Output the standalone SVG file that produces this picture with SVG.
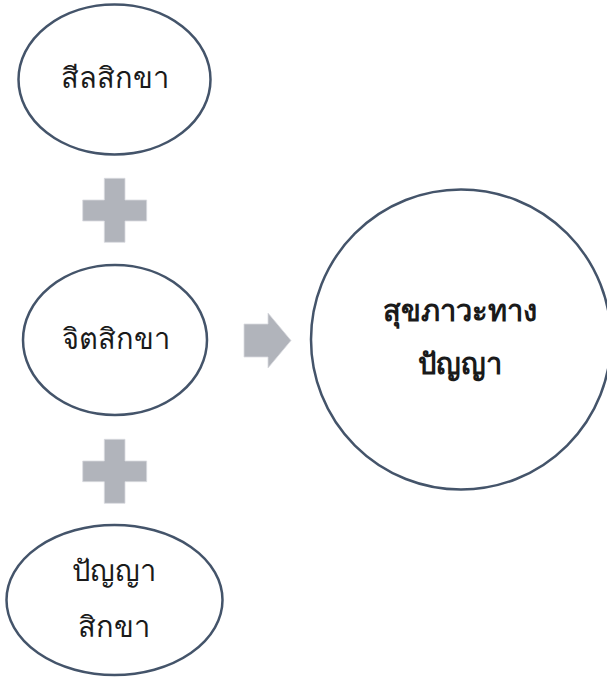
<svg xmlns="http://www.w3.org/2000/svg" width="607" height="678" viewBox="0 0 607 678">
<style>
.node{fill:#ffffff;stroke:#44546a;stroke-width:2.5}
.sym{fill:#b1b4bb;stroke:#d9dbdf;stroke-width:0.8}
.t{font-family:"Noto Sans","DejaVu Sans",sans-serif;font-size:29px;fill:#1a1a1a;text-anchor:middle}
.b{font-weight:bold}
</style>
<rect width="607" height="678" fill="#ffffff"/>
<g id="connectors">
<path class="sym" d="M104.3,178.3H125V200H146.7V221H125V242.3H104.3V221H82.7V200H104.3Z"/>
<path class="sym" d="M104.3,439.3H125V461H146.7V481.7H125V503.3H104.3V481.7H82.7V461H104.3Z"/>
<path class="sym" d="M244,324H268V313L291,340.5L268,368V357H244Z"/>
</g>
<g id="node-sila">
<ellipse class="node" cx="114.5" cy="79.5" rx="96" ry="75"/>
<text class="t" x="114.5" y="87.5">สีลสิกขา</text>
</g>
<g id="node-citta">
<ellipse class="node" cx="115" cy="340" rx="92" ry="75"/>
<text class="t" x="116" y="348.5">จิตสิกขา</text>
</g>
<g id="node-panna">
<ellipse class="node" cx="114.5" cy="600" rx="108" ry="75"/>
<text class="t" x="114" y="581">ปัญญา</text>
<text class="t" x="114" y="637">สิกขา</text>
</g>
<g id="node-result">
<circle class="node" cx="461" cy="339.5" r="150"/>
<text class="t b" x="460" y="320.5">สุขภาวะทาง</text>
<text class="t b" x="460" y="373.5">ปัญญา</text>
</g>
</svg>
